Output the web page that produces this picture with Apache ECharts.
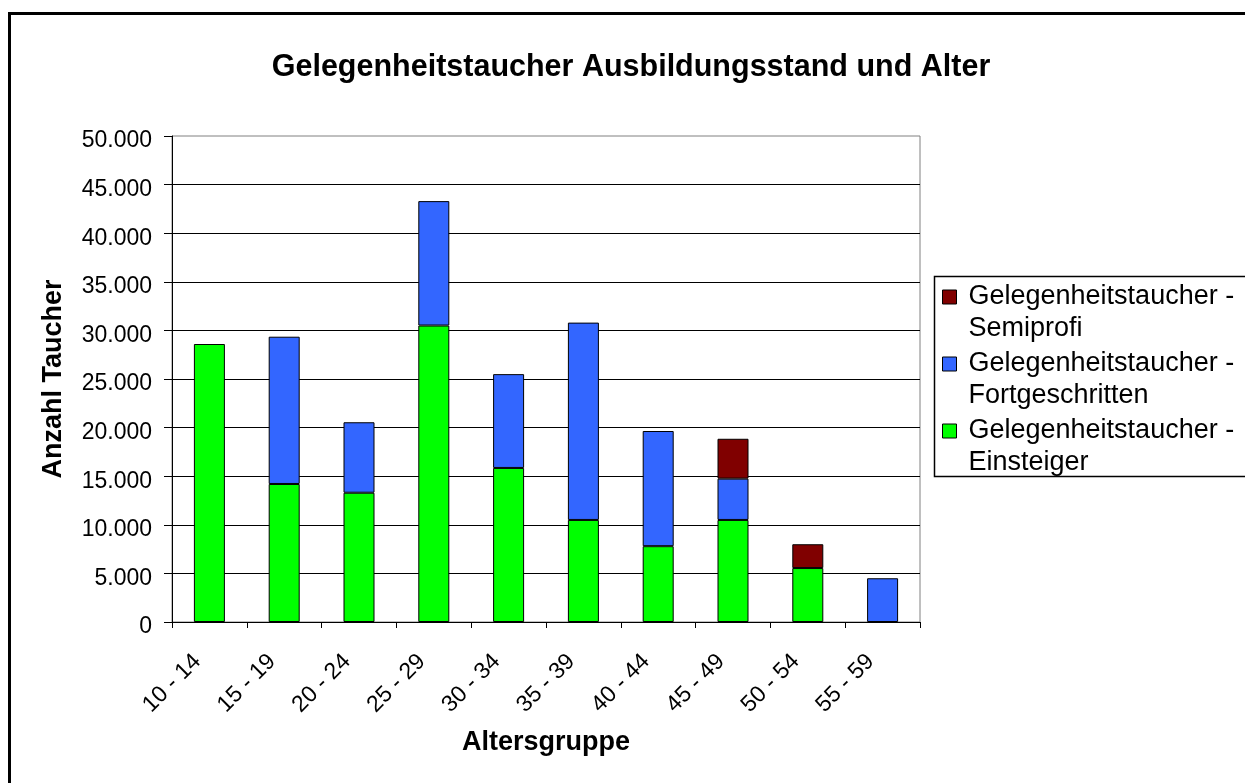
<!DOCTYPE html>
<html>
<head>
<meta charset="utf-8">
<script src="https://cdn.jsdelivr.net/npm/echarts@6/dist/echarts.min.js"></script>
<style>
  html, body { margin: 0; padding: 0; background: #fff; }
  #chart { width: 1245px; height: 783px; }
</style>
</head>
<body>
<div id="chart"></div>
<script>
const ageGroups = ['10 - 14', '15 - 19', '20 - 24', '25 - 29', '30 - 34', '35 - 39', '40 - 44', '45 - 49', '50 - 54', '55 - 59']
// '-' = kein Wert in dieser Gruppe
const einsteiger      = [28600, 14200, 13300, 30500, 15850, 10500, 7800, 10500, 5550, '-']
const fortgeschritten = ['-', 15150, 7250, 12800, 9650, 20300, 11850, 4250, '-', 4500]
const semiprofi       = ['-', '-', '-', '-', '-', '-', '-', 4100, 2450, '-']

const FONT = 'Liberation Sans, Arial, sans-serif'
const chart = echarts.init(document.getElementById('chart'))

function fmt(v) {
  return '{v|' + String(v).replace(/\B(?=(\d{3})+(?!\d))/g, '.') + '}'
}

function barSeries(name, data, color) {
  return {
    name,
    type: 'bar',
    stack: 'total',
    barWidth: 31,
    itemStyle: { color, borderColor: '#000', borderWidth: 1 },
    emphasis: { disabled: true },
    data
  }
}

chart.setOption({
  animation: false,
  backgroundColor: '#fff',
  title: {
    text: 'Gelegenheitstaucher Ausbildungsstand und Alter',
    left: 626, top: 47, textAlign: 'center',
    textStyle: { fontFamily: FONT, fontSize: 30.5, fontWeight: 'bold', color: '#000' }
  },
  graphic: [
    { type: 'rect', shape: { x: 9.5, y: 13.5, width: 1300, height: 900 }, style: { fill: null, stroke: '#000', lineWidth: 3 }, silent: true },
    { type: 'rect', shape: { x: 934.5, y: 276.5, width: 330, height: 200 }, style: { fill: null, stroke: '#000', lineWidth: 1.5 }, silent: true }
  ],
  legend: {
    left: 942, top: 249,
    orient: 'vertical',
    padding: 0,
    itemGap: -29,
    itemWidth: 14, itemHeight: 14,
    icon: 'rect',
    selectedMode: false,
    data: ['Gelegenheitstaucher - Semiprofi', 'Gelegenheitstaucher - Fortgeschritten', 'Gelegenheitstaucher - Einsteiger'],
    itemStyle: { borderColor: '#000', borderWidth: 1 },
    // leere erste Zeile, damit das Symbol neben der ersten Textzeile steht
    formatter: (n) => ' \n' + n.replace(' - ', ' -\n'),
    textStyle: { fontFamily: FONT, fontSize: 27, lineHeight: 32, color: '#000', padding: [0, 0, 0, 7] }
  },
  grid: { left: 172, right: 325, top: 136, bottom: 161, show: true, borderColor: '#808080', borderWidth: 1 },
  xAxis: {
    type: 'category',
    data: ageGroups,
    name: 'Altersgruppe',
    nameLocation: 'middle',
    nameGap: 107,
    nameMoveOverlap: false,
    nameTextStyle: { fontFamily: FONT, fontSize: 27, fontWeight: 'bold', color: '#000' },
    axisLine: { lineStyle: { color: '#000', width: 1 } },
    axisTick: { show: true, length: 6, lineStyle: { color: '#000' } },
    axisLabel: { rotate: 45, margin: 24, padding: [0, 17, 0, 0], fontFamily: FONT, fontSize: 23, color: '#000' }
  },
  yAxis: {
    type: 'value',
    min: 0, max: 50000, interval: 5000,
    name: 'Anzahl Taucher',
    nameLocation: 'middle',
    nameGap: 105,
    nameMoveOverlap: false,
    nameTextStyle: { fontFamily: FONT, fontSize: 27, fontWeight: 'bold', color: '#000' },
    axisLine: { show: true, lineStyle: { color: '#000', width: 1 } },
    axisTick: { show: true, length: 8, lineStyle: { color: '#000' } },
    splitLine: { show: true, showMaxLine: false, lineStyle: { color: '#000', width: 1 } },
    axisLabel: {
      margin: 20, formatter: fmt,
      rich: { v: { fontFamily: FONT, fontSize: 23, color: '#000', padding: [10, 0, 0, 0] } }
    }
  },
  series: [
    barSeries('Gelegenheitstaucher - Einsteiger', einsteiger, '#00FF00'),
    barSeries('Gelegenheitstaucher - Fortgeschritten', fortgeschritten, '#3366FF'),
    barSeries('Gelegenheitstaucher - Semiprofi', semiprofi, '#800000')
  ]
})
</script>
</body>
</html>
